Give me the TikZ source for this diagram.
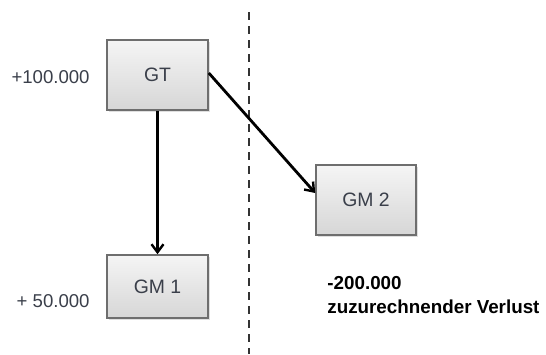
\documentclass[tikz,border=0pt]{standalone}
\usepackage{fontspec}
\setmainfont{Liberation Sans}
\usetikzlibrary{arrows.meta,shadows}
\definecolor{boxline}{HTML}{6E6E6E}
\definecolor{txt}{HTML}{3A3F4A}
\tikzset{
  entity/.style={draw=boxline, line width=0.8pt, top color=gray!8, bottom color=gray!32,
    drop shadow={shadow xshift=0.8pt, shadow yshift=-0.8pt, opacity=0.25},
    inner sep=0pt, font=\fontsize{9.7}{11}\selectfont, text=txt},
  amount/.style={inner sep=0pt, font=\fontsize{9.3}{11}\selectfont, text=txt},
  loss/.style={inner sep=0pt, font=\bfseries\fontsize{9.4}{11}\selectfont, text=black},
  link/.style={line width=1.4pt, -{Straight Barb[length=4pt,width=6pt,line width=1.2pt]}},
  divider/.style={line width=1.1pt, dash pattern=on 4pt off 3pt, draw=black!80}
}
\begin{document}
\begin{tikzpicture}[x=0.5pt,y=-0.5pt]
  \useasboundingbox (0,0) rectangle (546,354);
  % boundary between the two groups
  \coordinate (dtop) at (249,12);
  \coordinate (dbot) at (249,354);
  \draw[divider] (dtop) -- (dbot);
  % companies
  \node[entity, minimum width=50.5pt, minimum height=35pt] (gt)  at (157.5,75) {GT};
  \node[entity, minimum width=50.5pt, minimum height=31.5pt] (gm1) at (157.5,286.5) {GM 1};
  \node[entity, minimum width=50pt, minimum height=35pt] (gm2) at (366,200) {GM 2};
  % results
  \node[amount, anchor=base east] (r0) at (90,83) {+100.000};
  \node[amount, anchor=base east] (r1) at (90,307) {+ 50.000};
  \node[loss, anchor=base west] (l1) at (327,289) {-200.000};
  \node[loss, anchor=base west] (l2) at (327,313) {zuzurechnender Verlust};
  % links
  \draw[link] (gt.south) -- (gm1.north);
  \draw[link] ([yshift=1pt]gt.east) -- ([yshift=3.5pt]gm2.west);
\end{tikzpicture}
\end{document}
